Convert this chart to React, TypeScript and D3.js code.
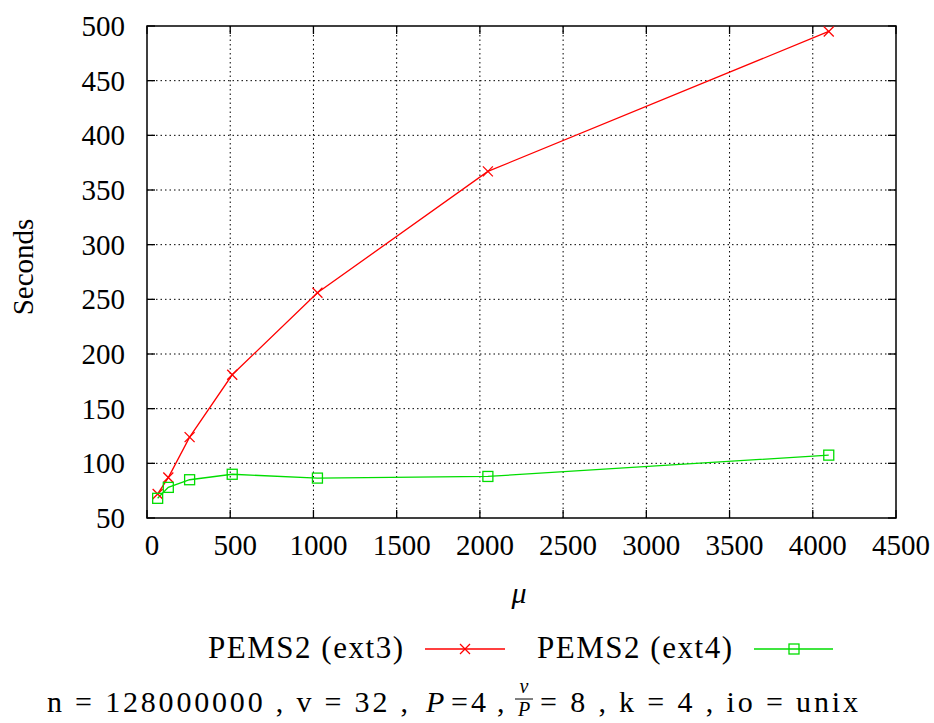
import React from "react";
import * as d3 from "d3";

const xValues = [64, 128, 256, 512, 1024, 2048, 4096];
const ext3 = [72, 87, 124, 181, 256, 367, 495];
const ext4 = [68, 78, 85, 90, 86.5, 88, 107.5];
const xTicks = [0, 500, 1000, 1500, 2000, 2500, 3000, 3500, 4000, 4500];
const yTicks = [50, 100, 150, 200, 250, 300, 350, 400, 450, 500];
const seriesNames = ["PEMS2 (ext3)", "PEMS2 (ext4)"];

const W = 934, H = 723;
const L = 147, R = 896, T = 26, B = 518;
const FONT = "'Liberation Serif', 'DejaVu Serif', 'Times New Roman', Times, serif";
const ts = { fontFamily: FONT };

export default function App() {
  const x = d3.scaleLinear().domain([0, 4500]).range([L, R]);
  const y = d3.scaleLinear().domain([50, 500]).range([B, T]);
  const line = d3.line<number>().x((_, i) => x(xValues[i])).y((v) => y(v));
  const red = "#ff0000", green = "#00dd00";
  const cross = (cx: number, cy: number, c: string, k: string) => (
    <g key={k} stroke={c} strokeWidth={1.3}>
      <line x1={cx - 5} y1={cy - 5} x2={cx + 5} y2={cy + 5} />
      <line x1={cx - 5} y1={cy + 5} x2={cx + 5} y2={cy - 5} />
    </g>
  );
  const sq = (cx: number, cy: number, c: string, k: string) => (
    <rect key={k} x={cx - 5} y={cy - 5} width={10} height={10} fill="none" stroke={c} strokeWidth={1.3} />
  );
  return (
    <svg width={W} height={H} style={{ position: "absolute", left: 0, top: 0, fontFamily: FONT }}>
      <rect width={W} height={H} fill="white" />
      {xTicks.slice(1, -1).map((t) => (
        <line key={"gx" + t} x1={x(t)} x2={x(t)} y1={T} y2={B} stroke="black" strokeWidth={1} strokeDasharray="1.5,3" />
      ))}
      {yTicks.slice(1, -1).map((t) => (
        <line key={"gy" + t} x1={L} x2={R} y1={y(t)} y2={y(t)} stroke="black" strokeWidth={1} strokeDasharray="1.5,3" />
      ))}
      {xTicks.map((t) => (
        <g key={"tx" + t}>
          <line x1={x(t)} x2={x(t)} y1={B} y2={B - 8} stroke="black" strokeWidth={1.3} />
          <line x1={x(t)} x2={x(t)} y1={T} y2={T + 8} stroke="black" strokeWidth={1.3} />
          <text x={x(t) + 5} y={B + 37} fontSize={29} textAnchor="middle" style={ts}>{t}</text>
        </g>
      ))}
      {yTicks.map((t) => (
        <g key={"ty" + t}>
          <line x1={L} x2={L + 8} y1={y(t)} y2={y(t)} stroke="black" strokeWidth={1.3} />
          <line x1={R} x2={R - 8} y1={y(t)} y2={y(t)} stroke="black" strokeWidth={1.3} />
          <text x={L - 22} y={y(t) + 10} fontSize={29} textAnchor="end" style={ts}>{t}</text>
        </g>
      ))}
      <rect x={L} y={T} width={R - L} height={B - T} fill="none" stroke="black" strokeWidth={1.5} />
      <path d={line(ext3) || ""} fill="none" stroke={red} strokeWidth={1.3} />
      <path d={line(ext4) || ""} fill="none" stroke={green} strokeWidth={1.3} />
      {ext3.map((v, i) => cross(x(xValues[i]), y(v), red, "r" + i))}
      {ext4.map((v, i) => sq(x(xValues[i]), y(v), green, "g" + i))}
      <text transform="translate(33,267) rotate(-90)" fontSize={29} textAnchor="middle" style={ts}>Seconds</text>
      <text x={519} y={603} fontSize={30} fontStyle="italic" textAnchor="middle" style={ts}>μ</text>
      <text x={208} y={658} fontSize={31} textLength={195} lengthAdjust="spacing" style={ts}>{seriesNames[0]}</text>
      <line x1={425} x2={505} y1={649} y2={649} stroke={red} strokeWidth={1.3} />
      {cross(465, 649, red, "lr")}
      <text x={537} y={658} fontSize={31} textLength={195} lengthAdjust="spacing" style={ts}>{seriesNames[1]}</text>
      <line x1={754} x2={833} y1={649} y2={649} stroke={green} strokeWidth={1.3} />
      {sq(794, 649, green, "lg")}
      <g fontSize={30} style={ts}>
        <text x={47} y={712} textLength={361} lengthAdjust="spacing">n = 128000000 , v = 32 ,</text>
        <text x={426} y={712} fontStyle="italic">P</text>
        <text x={451} y={712}>=</text>
        <text x={471} y={712}>4</text>
        <text x={497} y={712}>,</text>
        <text x={524} y={693} fontSize={20} fontStyle="italic" textAnchor="middle">v</text>
        <line x1={515} x2={533} y1={699} y2={699} stroke="black" strokeWidth={1} />
        <text x={524} y={716} fontSize={20} fontStyle="italic" textAnchor="middle">P</text>
        <text x={540} y={712} textLength={318} lengthAdjust="spacing">= 8 , k = 4 , io = unix</text>
      </g>
    </svg>
  );
}
